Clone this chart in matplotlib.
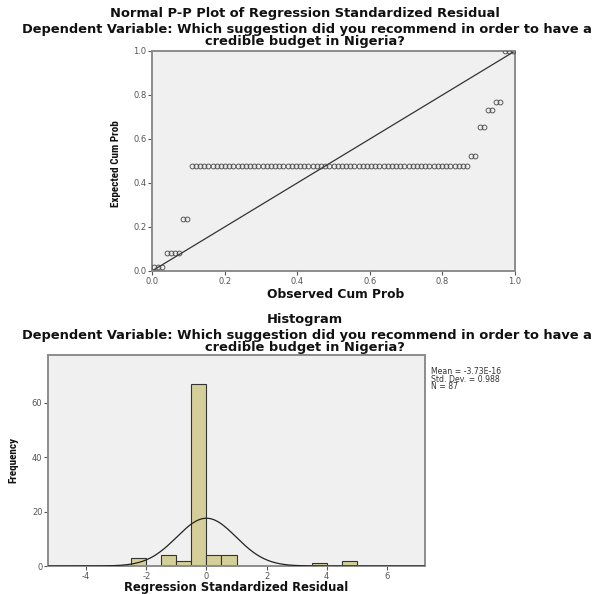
import numpy as np
import matplotlib
matplotlib.use("Agg")
import matplotlib.pyplot as plt

# P-P plot: expected cum prob of each group of tied residuals, and group sizes
pp_expected = [0.018, 0.08, 0.235, 0.478, 0.524, 0.655, 0.733, 0.77, 0.998]
pp_counts = [3, 4, 2, 67, 2, 2, 2, 2, 3]

# histogram of standardized residuals (bin width 0.5)
bin_left = [-2.5, -2.0, -1.5, -1.0, -0.5, 0.0, 0.5, 1.0, 1.5, 2.0, 2.5, 3.0, 3.5, 4.0, 4.5]
bin_count = [3, 0, 4, 2, 67, 4, 4, 0, 0, 0, 0, 0, 1, 0, 2]
res_mean = -3.73e-16
res_sd = 0.988
res_n = 87

W, H = 604, 594
fig = plt.figure(figsize=(W / 100, H / 100), dpi=100)
plt.rcParams['font.family'] = ['DejaVu Sans']

def px(x, y):
    return x / W, 1 - y / H

def box(l, t, r, b):
    return [l / W, 1 - b / H, (r - l) / W, (b - t) / H]

def style(ax):
    ax.set_facecolor('#f0f0f0')
    for s in ax.spines.values():
        s.set_color('#8c8c8c')
        s.set_linewidth(1.4)
    ax.tick_params(length=3, width=0.8, color='#555555', labelsize=6,
                   labelcolor='#555555', pad=1)

bold = dict(fontweight='bold', color='#111111')
narrow = ['Liberation Sans Narrow', 'Roboto Condensed', 'Open Sans Condensed',
          'Liberation Sans', 'DejaVu Sans']
dep1 = "Dependent Variable: Which suggestion did you recommend in order to have a"
dep2 = "credible budget in Nigeria?"
tsize = 9.4

# ---------- P-P plot ----------
fig.text(*px(305, 13), "Normal P-P Plot of Regression Standardized Residual",
         ha='center', va='center', fontsize=tsize, **bold)
fig.text(*px(307, 30), dep1, ha='center', va='center', fontsize=tsize, **bold)
fig.text(*px(305, 42), dep2, ha='center', va='center', fontsize=tsize, **bold)

ax1 = fig.add_axes(box(152, 51, 515, 271))
style(ax1)
ranks = np.arange(1, res_n + 1)
obs = (ranks - 0.5) / res_n
exp_pts = np.repeat(pp_expected, pp_counts)
ax1.plot([0, 1], [0, 1], color='#333333', lw=0.9, zorder=2)
ax1.plot(obs, exp_pts, 'o', ms=3.5, mfc='none', mec='#444444', mew=0.6, zorder=3)
ax1.set_xlim(0, 1)
ax1.set_ylim(0, 1)
ticks = [0, 0.2, 0.4, 0.6, 0.8, 1.0]
ax1.set_xticks(ticks)
ax1.set_yticks(ticks)
ax1.set_xticklabels(['%.1f' % t for t in ticks])
ax1.set_yticklabels(['%.1f' % t for t in ticks])
fig.text(*px(336, 294), "Observed Cum Prob", ha='center', va='center', fontsize=8.8, **bold)
fig.text(*px(116, 164), "Expected Cum Prob", ha='center', va='center', rotation=90,
         fontsize=8, family=narrow, stretch='condensed', **bold)

# ---------- Histogram ----------
fig.text(*px(305, 319), "Histogram", ha='center', va='center', fontsize=tsize, **bold)
fig.text(*px(307, 335), dep1, ha='center', va='center', fontsize=tsize, **bold)
fig.text(*px(305, 347), dep2, ha='center', va='center', fontsize=tsize, **bold)

ax2 = fig.add_axes(box(48, 355, 425, 566))
style(ax2)
ax2.bar(bin_left, bin_count, width=0.5, align='edge', color='#d4cf98',
        edgecolor='#333333', linewidth=0.8, zorder=2)
xs = np.linspace(-5.27, 7.27, 400)
curve = res_n * 0.5 / (res_sd * np.sqrt(2 * np.pi)) * np.exp(-0.5 * ((xs - res_mean) / res_sd) ** 2)
ax2.plot(xs, curve, color='#222222', lw=0.9, zorder=3)
ax2.set_xlim(-5.27, 7.27)
ax2.set_ylim(0, 77.6)
ax2.set_xticks([-4, -2, 0, 2, 4, 6])
ax2.set_yticks([0, 20, 40, 60])
ax2.set_xticklabels(['-4', '-2', '0', '2', '4', '6'])
fig.text(*px(236, 587), "Regression Standardized Residual", ha='center', va='center',
         fontsize=8.4, **bold)
fig.text(*px(13, 460), "Frequency", ha='center', va='center', rotation=90,
         fontsize=8, family=narrow, stretch='condensed', **bold)

fig.text(*px(431, 367), "Mean = -3.73E-16\nStd. Dev. = 0.988\nN = 87",
         ha='left', va='top', fontsize=5.6, linespacing=0.8, color='#333333')

fig.savefig("out.png", dpi=100)
